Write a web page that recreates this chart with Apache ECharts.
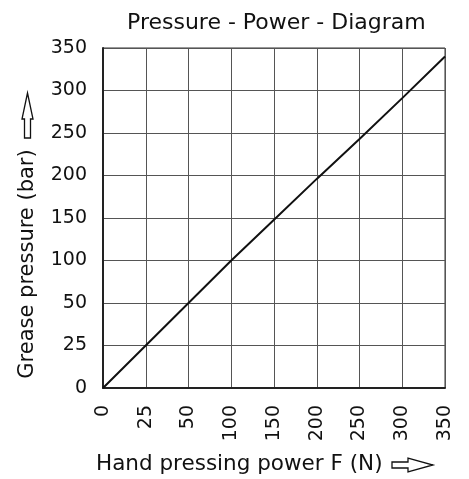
<!DOCTYPE html>
<html>
<head>
<meta charset="utf-8">
<script src="https://cdn.jsdelivr.net/npm/echarts@6/dist/echarts.min.js"></script>
<style>
  html, body { margin: 0; padding: 0; background: #fff; }
  #chart { width: 469px; height: 479px; }
</style>
</head>
<body>
<div id="chart"></div>
<script>
// tick values on both axes (equally spaced, not linear)
const forceTicks = [0, 25, 50, 100, 150, 200, 250, 300, 350];
const pressureTicks = [0, 25, 50, 100, 150, 200, 250, 300, 350];

// readings from the diagram
const force = [0, 25, 50, 100, 150, 200, 250, 300, 350];
const pressure = [0, 25, 50, 100, 148, 196, 243, 291, 340];

// map a value onto the piecewise tick scale (tick index units)
function toPos(v, ticks) {
  for (let i = 1; i < ticks.length; i++) {
    if (v <= ticks[i]) return i - 1 + (v - ticks[i - 1]) / (ticks[i] - ticks[i - 1]);
  }
  return ticks.length - 1;
}

const lineData = force.map((f, i) => [toPos(f, forceTicks), toPos(pressure[i], pressureTicks)]);

const font = 'DejaVu Sans';
const chart = echarts.init(document.getElementById('chart'));

const option = {
  backgroundColor: '#fff',
  animation: false,
  title: {
    text: 'Pressure - Power - Diagram',
    left: 122,
    top: 7,
    textStyle: { fontFamily: font, fontSize: 22, fontWeight: 'normal', color: '#111' }
  },
  grid: {
    left: 103, right: 24, top: 48, bottom: 91,
    show: true, borderColor: '#333', borderWidth: 1
  },
  xAxis: {
    type: 'value',
    min: 0, max: forceTicks.length - 1, interval: 1,
    axisLine: { lineStyle: { color: '#222', width: 2 } },
    axisTick: { show: false },
    splitLine: { show: true, lineStyle: { color: '#555', width: 1 } },
    axisLabel: {
      rotate: 90, margin: 17,
      fontFamily: font, fontSize: 19, color: '#111',
      formatter: v => String(forceTicks[v])
    }
  },
  yAxis: {
    type: 'value',
    min: 0, max: pressureTicks.length - 1, interval: 1,
    axisLine: { show: true, lineStyle: { color: '#222', width: 2 } },
    axisTick: { show: false },
    splitLine: { show: true, lineStyle: { color: '#555', width: 1 } },
    axisLabel: {
      margin: 16,
      fontFamily: font, fontSize: 19, color: '#111',
      formatter: v => String(pressureTicks[v])
    }
  },
  graphic: [
    {
      type: 'text', left: 96, top: 453,
      style: { text: 'Hand pressing power F (N)', font: '21.5px "DejaVu Sans"', fill: '#111' }
    },
    {
      type: 'text', x: 28, y: 264, rotation: Math.PI / 2,
      style: { text: 'Grease pressure (bar)', font: '21px "DejaVu Sans"', fill: '#111', align: 'center', verticalAlign: 'middle' }
    },
    {
      type: 'polygon',
      shape: { points: [[392, 462], [408, 462], [408, 458], [433, 465], [408, 472], [408, 468], [392, 468]] },
      style: { fill: '#fff', stroke: '#111', lineWidth: 1.3 }
    },
    {
      type: 'polygon',
      shape: { points: [[24.5, 138], [24.5, 119], [22, 119], [27.5, 93], [33, 119], [30.5, 119], [30.5, 138]] },
      style: { fill: '#fff', stroke: '#111', lineWidth: 1.3 }
    }
  ],
  series: [
    {
      type: 'line',
      data: lineData,
      showSymbol: false,
      lineStyle: { color: '#111', width: 2 }
    }
  ]
};

chart.setOption(option);
</script>
</body>
</html>
